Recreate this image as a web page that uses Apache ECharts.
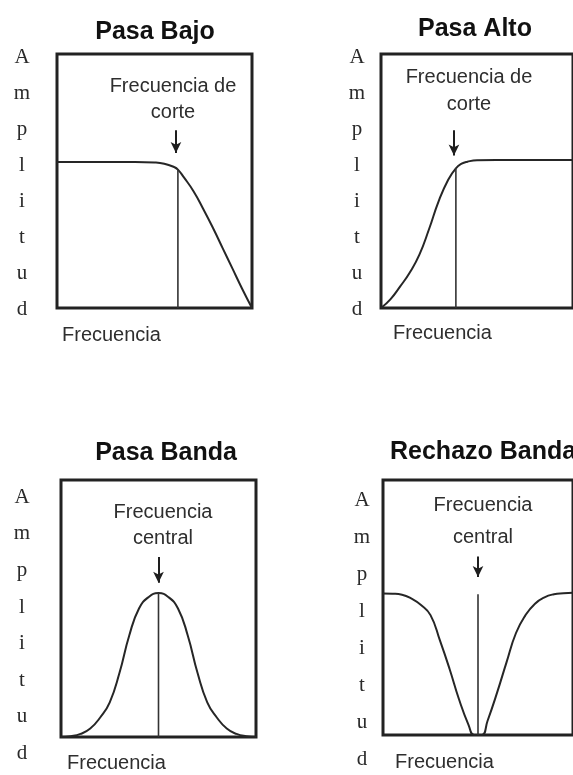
<!DOCTYPE html>
<html>
<head>
<meta charset="utf-8">
<script src="https://cdn.jsdelivr.net/npm/echarts@6/dist/echarts.min.js"></script>
<style>
  html, body { margin: 0; padding: 0; background: #fff; }
  #chart { width: 573px; height: 775px; }
</style>
</head>
<body>
<div id="chart"></div>
<script>
// Pasa Bajo (low-pass response)
const lowPassFreq = [0, 10, 20, 30, 40, 50, 55, 60, 62, 65, 70, 75, 80, 85, 90, 95, 100];
const lowPassAmp  = [57.5, 57.5, 57.5, 57.5, 57.5, 57.3, 56.8, 55.5, 54.5, 51.5, 46, 39, 31.5, 23.5, 15.5, 7.5, 0];
const lowPassCutoff = [62, 54.5];      // frequency, amplitude at the cutoff
const lowPassArrow = [61, 70, 61];     // x, from, to

// Pasa Alto (high-pass response)
const highPassFreq = [0, 5, 10, 15, 20, 25, 30, 35, 39, 42, 45, 50, 60, 70, 80, 90, 100];
const highPassAmp  = [0, 3.5, 8.5, 14, 21, 31, 42, 50.5, 55, 56.8, 57.6, 58.2, 58.3, 58.3, 58.3, 58.3, 58.3];
const highPassCutoff = [39, 55];
const highPassArrow = [38, 70, 60];

// Pasa Banda (band-pass response)
const bandPassFreq = [0, 5, 10, 15, 20, 25, 30, 35, 40, 45, 50, 55, 60, 65, 70, 75, 80, 85, 90, 95, 100];
const bandPassAmp  = [0, 0.3, 1.2, 3.3, 7.5, 13.5, 25, 39.5, 50, 54.5, 56, 54.5, 50, 39.5, 25, 13.5, 7.5, 3.3, 1.2, 0.3, 0];
const bandPassCenter = [50, 56];
const bandPassArrow = [50, 70, 60];

// Rechazo Banda (band-stop response)
const bandStopFreq = [0, 5, 10, 15, 20, 25, 30, 35, 40, 45, 48, 52, 55, 60, 65, 70, 75, 80, 85, 90, 95, 100];
const bandStopAmp  = [55.5, 55.4, 55, 53.5, 51, 47, 37, 26, 14, 4, 0, 0, 5.5, 16.5, 28.5, 40, 47, 51.5, 54, 55.2, 55.6, 55.8];
const bandStopCenter = [50, 55.2];
const bandStopArrow = [50, 70, 62];

const titles = ['Pasa Bajo', 'Pasa Alto', 'Pasa Banda', 'Rechazo Banda'];
const notes = ['Frecuencia de\ncorte', 'Frecuencia de\ncorte', 'Frecuencia\ncentral', 'Frecuencia\ncentral'];
const xLabel = 'Frecuencia';
const yLetters = 'A\nm\np\nl\ni\nt\nu\nd';

// panel frames in pixels
const frames = [
  { left: 57,  top: 54,  width: 195, height: 254 },
  { left: 381, top: 54,  width: 196, height: 254 },
  { left: 61,  top: 480, width: 195, height: 257 },
  { left: 383, top: 480, width: 196, height: 255 }
];

const INK = '#262626';
const SANS = '"Liberation Sans", Arial, Helvetica, sans-serif';
const SERIF = '"Liberation Serif", "Times New Roman", serif';

function pairs(xs, ys) { return xs.map((x, i) => [x, ys[i]]); }

function curve(idx, xs, ys) {
  return {
    type: 'line', xAxisIndex: idx, yAxisIndex: idx,
    data: pairs(xs, ys),
    smooth: 0.5,
    symbol: 'none', silent: true,
    lineStyle: { color: INK, width: 2 }
  };
}

function marker(idx, point, arrow) {
  return {
    type: 'line', xAxisIndex: idx, yAxisIndex: idx,
    data: [[point[0], 0], [point[0], point[1]]],
    symbol: 'none', silent: true,
    lineStyle: { color: '#333', width: 1.6 },
    markLine: {
      silent: true,
      symbol: ['none', 'arrow'],
      symbolSize: [8, 11],
      label: { show: false },
      lineStyle: { type: 'solid', color: '#1e1e1e', width: 2 },
      data: [[{ coord: [arrow[0], arrow[1]] }, { coord: [arrow[0], arrow[2]] }]]
    }
  };
}

const grids = frames.map(f => Object.assign({
  show: true, borderColor: '#222', borderWidth: 3, backgroundColor: 'transparent'
}, f));

const axisBase = {
  type: 'value', min: 0, max: 100,
  axisLine: { show: false }, axisTick: { show: false },
  axisLabel: { show: false }, splitLine: { show: false }
};

const xAxes = frames.map((_, i) => Object.assign({ gridIndex: i }, axisBase));
const yAxes = frames.map((_, i) => Object.assign({ gridIndex: i }, axisBase));

function text(x, y, str, font, fill, align, vAlign, lineHeight) {
  const style = { text: str, x: x, y: y, font: font, fill: fill, align: align, verticalAlign: vAlign };
  if (lineHeight) style.lineHeight = lineHeight;
  return { type: 'text', silent: true, style: style };
}

const graphics = [
  // titles
  text(155, 32, titles[0], 'bold 25px ' + SANS, '#111', 'center', 'middle'),
  text(475, 29, titles[1], 'bold 25px ' + SANS, '#111', 'center', 'middle'),
  text(166, 453, titles[2], 'bold 25px ' + SANS, '#111', 'center', 'middle'),
  text(390, 452, titles[3], 'bold 25px ' + SANS, '#111', 'left', 'middle'),
  // annotations
  text(173, 99, notes[0], '20px ' + SANS, '#2e2e2e', 'center', 'middle', 26),
  text(469, 91, notes[1], '20px ' + SANS, '#2e2e2e', 'center', 'middle', 27),
  text(163, 525, notes[2], '20px ' + SANS, '#2e2e2e', 'center', 'middle', 26),
  text(483, 521, notes[3], '20px ' + SANS, '#2e2e2e', 'center', 'middle', 32),
  // frequency axis captions
  text(62, 335, xLabel, '20px ' + SANS, '#2e2e2e', 'left', 'middle'),
  text(393, 333, xLabel, '20px ' + SANS, '#2e2e2e', 'left', 'middle'),
  text(67, 763, xLabel, '20px ' + SANS, '#2e2e2e', 'left', 'middle'),
  text(395, 762, xLabel, '20px ' + SANS, '#2e2e2e', 'left', 'middle'),
  // stacked amplitude captions
  text(22, 39, yLetters, '21px ' + SERIF, '#2a2a2a', 'center', 'top', 36),
  text(357, 39, yLetters, '21px ' + SERIF, '#2a2a2a', 'center', 'top', 36),
  text(22, 479, yLetters, '21px ' + SERIF, '#2a2a2a', 'center', 'top', 36.6),
  text(362, 482, yLetters, '21px ' + SERIF, '#2a2a2a', 'center', 'top', 37)
];

const chart = echarts.init(document.getElementById('chart'), null, { renderer: 'canvas' });
chart.setOption({
  animation: false,
  backgroundColor: '#fff',
  grid: grids,
  xAxis: xAxes,
  yAxis: yAxes,
  graphic: graphics,
  series: [
    curve(0, lowPassFreq, lowPassAmp),
    marker(0, lowPassCutoff, lowPassArrow),
    curve(1, highPassFreq, highPassAmp),
    marker(1, highPassCutoff, highPassArrow),
    curve(2, bandPassFreq, bandPassAmp),
    marker(2, bandPassCenter, bandPassArrow),
    curve(3, bandStopFreq, bandStopAmp),
    marker(3, bandStopCenter, bandStopArrow)
  ]
});
</script>
</body>
</html>
